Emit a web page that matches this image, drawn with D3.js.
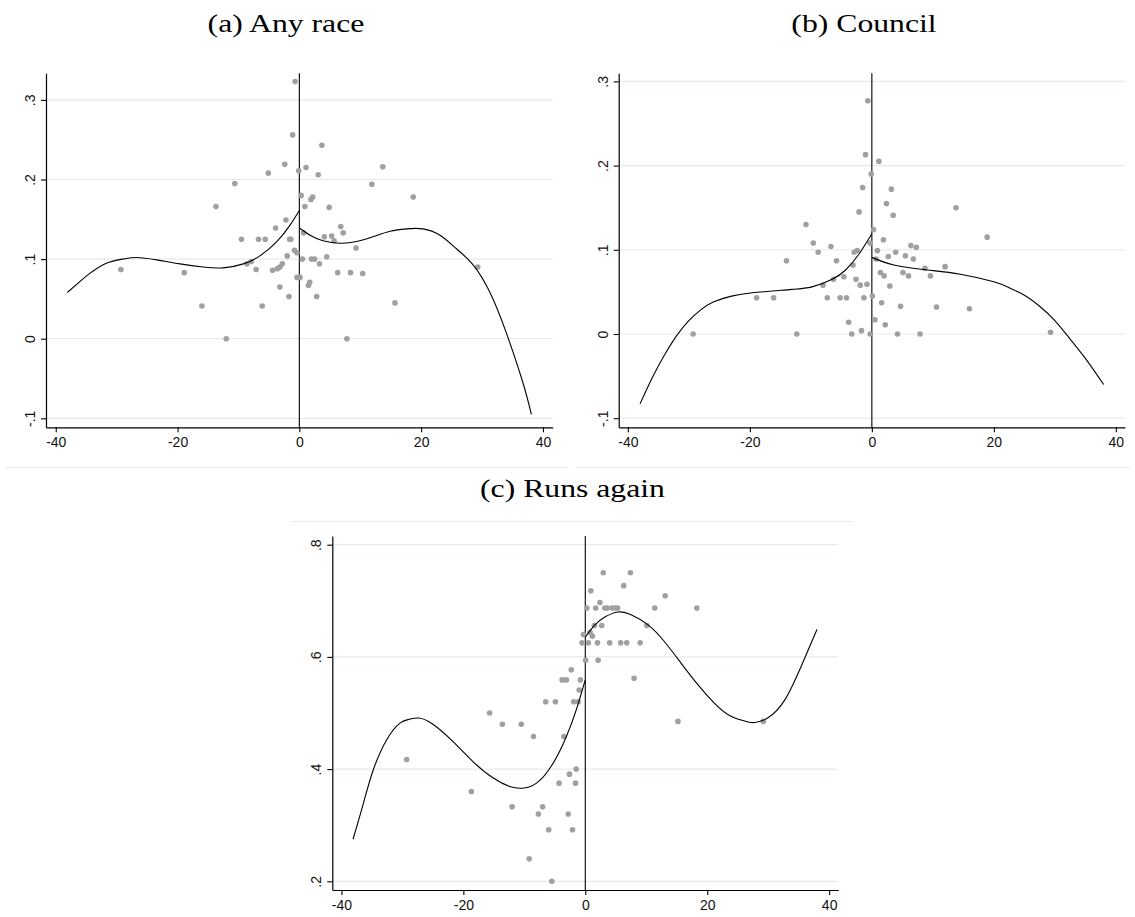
<!DOCTYPE html>
<html>
<head>
<meta charset="utf-8">
<script src="https://cdn.jsdelivr.net/npm/d3@7"></script>
<style>
  html, body { margin: 0; padding: 0; background: #fff; }
  svg { display: block; }
</style>
</head>
<body>
<svg id="chart" width="1135" height="917"></svg>
<script>
// ---------------- DATA ----------------
const panelTitles = ["(a) Any race", "(b) Council", "(c) Runs again"];

const xTickValues = [-40, -20, 0, 20, 40];
const xTickLabels = ["-40", "-20", "0", "20", "40"];

const yTickValuesAB = [-0.1, 0, 0.1, 0.2, 0.3];
const yTickLabelsAB = ["-.1", "0", ".1", ".2", ".3"];

const yTickValuesC = [0.2, 0.4, 0.6, 0.8];
const yTickLabelsC = [".2", ".4", ".6", ".8"];

// (a) Any race: binned means [x, y]
const anyRacePoints = [
  [-29.3,0.087],[-18.9,0.083],[-16.0,0.041],[-13.7,0.166],[-12.0,0.0],[-10.6,0.195],
  [-9.5,0.125],[-8.6,0.094],[-7.9,0.097],[-7.1,0.087],[-6.7,0.125],[-6.1,0.041],
  [-5.6,0.125],[-5.1,0.208],[-4.4,0.086],[-3.9,0.139],[-3.6,0.088],[-3.2,0.090],
  [-3.2,0.065],[-2.8,0.094],[-2.4,0.219],[-2.2,0.149],[-2.0,0.104],[-1.7,0.053],
  [-1.6,0.125],[-1.4,0.125],[-1.1,0.256],[-0.8,0.111],[-0.7,0.323],[-0.4,0.108],
  [-0.4,0.077],[-0.1,0.211],[0.1,0.077],[0.3,0.180],[0.5,0.100],[0.7,0.133],
  [0.9,0.166],[1.1,0.215],[1.5,0.067],[1.7,0.071],[1.9,0.175],[2.0,0.100],
  [2.2,0.178],[2.5,0.100],[2.85,0.053],[3.1,0.206],[3.3,0.094],[3.7,0.243],
  [4.1,0.128],[4.5,0.103],[4.9,0.165],[5.3,0.129],[5.7,0.123],[6.3,0.083],
  [6.8,0.141],[7.2,0.133],[7.8,0.0],[8.4,0.083],[9.3,0.114],[10.4,0.082],
  [11.9,0.194],[13.7,0.216],[15.7,0.045],[18.7,0.178],[29.3,0.090]
];
const anyRaceFitLeft = [
  [-38.1,0.058],[-36.0,0.072],[-34.4,0.082],[-31.6,0.095],[-29.0,0.100],[-26.7,0.102],
  [-23.4,0.099],[-19.6,0.094],[-15.8,0.090],[-12.5,0.089],[-9.2,0.094],[-6.5,0.104],
  [-3.7,0.122],[-1.5,0.143],[0,0.161]
];
const anyRaceFitRight = [
  [0,0.139],[1.75,0.130],[3.9,0.123],[6.7,0.120],[9.4,0.122],[12.1,0.128],[14.9,0.135],
  [17.6,0.138],[20.3,0.138],[23.1,0.130],[25.8,0.113],[28.5,0.093],[31.3,0.058],
  [34.0,0.007],[36.7,-0.055],[38.1,-0.095]
];

// (b) Council
const councilPoints = [
  [-29.3,0.0],[-18.9,0.043],[-16.1,0.043],[-14.0,0.087],[-12.3,0.0],[-10.8,0.130],
  [-9.6,0.108],[-8.8,0.097],[-8.0,0.058],[-7.3,0.043],[-6.7,0.104],[-6.3,0.065],
  [-5.8,0.087],[-5.2,0.043],[-4.6,0.068],[-4.15,0.043],[-3.8,0.014],[-3.3,0.0],
  [-3.1,0.082],[-2.9,0.097],[-2.6,0.065],[-2.4,0.099],[-2.1,0.145],[-1.9,0.058],
  [-1.7,0.004],[-1.5,0.174],[-1.3,0.043],[-1.04,0.213],[-0.8,0.059],[-0.66,0.277],
  [-0.3,0.108],[-0.27,0.0],[-0.1,0.190],
  [0.1,0.045],[0.27,0.124],[0.5,0.017],[0.7,0.089],[0.9,0.099],[1.15,0.205],
  [1.4,0.073],[1.6,0.037],[1.9,0.112],[2.0,0.069],[2.2,0.011],[2.4,0.155],
  [2.7,0.092],[2.95,0.057],[3.2,0.172],[3.5,0.141],[3.9,0.097],[4.2,0.0],
  [4.7,0.033],[5.1,0.073],[5.5,0.093],[6.0,0.069],[6.4,0.105],[6.8,0.089],
  [7.3,0.103],[7.9,0.0],[8.7,0.078],[9.6,0.069],[10.6,0.032],[12.0,0.080],
  [13.8,0.150],[16.0,0.030],[18.9,0.115],[29.3,0.002]
];
const councilFitLeft = [
  [-38.0,-0.083],[-36.0,-0.052],[-34.0,-0.025],[-32.0,-0.002],[-30.0,0.016],[-28.0,0.029],
  [-26.0,0.038],[-23.0,0.045],[-19.6,0.049],[-16.3,0.051],[-13.1,0.053],[-9.8,0.056],
  [-6.5,0.065],[-4.3,0.076],[-2.1,0.095],[0,0.119]
];
const councilFitRight = [
  [0,0.091],[3.6,0.082],[9.1,0.076],[14.5,0.071],[20.0,0.062],[22.5,0.055],[25.0,0.046],
  [27.5,0.033],[30.0,0.016],[32.5,-0.006],[35.0,-0.029],[38.0,-0.060]
];

// (c) Runs again
const runsAgainPoints = [
  [-29.3,0.417],[-18.7,0.360],[-15.7,0.500],[-13.6,0.480],[-12.0,0.333],[-10.5,0.480],
  [-9.2,0.240],[-8.5,0.458],[-7.7,0.320],[-7.0,0.333],[-6.5,0.520],[-6.0,0.292],
  [-5.5,0.200],[-4.9,0.520],[-4.3,0.375],[-3.8,0.559],[-3.5,0.458],[-3.1,0.559],
  [-2.8,0.320],[-2.6,0.391],[-2.3,0.577],[-2.1,0.292],[-1.9,0.520],[-1.6,0.375],
  [-1.5,0.400],[-1.15,0.520],[-1.0,0.541],[-0.8,0.559],[-0.55,0.625],[-0.3,0.640],
  [0.05,0.594],[0.27,0.687],[0.5,0.625],[0.77,0.644],[0.9,0.718],[1.15,0.637],
  [1.5,0.656],[1.7,0.687],[2.0,0.625],[2.1,0.594],[2.4,0.697],[2.7,0.656],
  [2.95,0.750],[3.2,0.687],[3.6,0.687],[4.0,0.625],[4.4,0.687],[4.9,0.687],
  [5.3,0.687],[5.8,0.625],[6.3,0.727],[6.8,0.625],[7.4,0.750],[8.0,0.562],
  [9.0,0.625],[10.1,0.656],[11.4,0.687],[13.1,0.709],[15.2,0.485],[18.3,0.687],
  [29.2,0.485]
];
const runsAgainFitLeft = [
  [-38.1,0.275],[-36.4,0.339],[-34.8,0.398],[-32.6,0.452],[-30.4,0.482],[-28.8,0.489],
  [-27.3,0.491],[-25.0,0.480],[-21.7,0.449],[-18.4,0.413],[-15.1,0.384],[-12.4,0.369],
  [-10.4,0.366],[-8.0,0.375],[-5.3,0.410],[-3.1,0.458],[-1.5,0.505],[0,0.559]
];
const runsAgainFitRight = [
  [0,0.635],[1.5,0.656],[3.2,0.671],[5.4,0.680],[7.5,0.675],[10.3,0.657],[13.0,0.627],
  [15.7,0.589],[18.5,0.550],[21.2,0.517],[23.9,0.494],[26.7,0.484],[27.8,0.483],
  [29.9,0.491],[32.7,0.523],[35.4,0.583],[38.0,0.649]
];

// ---------------- LAYOUT ----------------
const svg = d3.select("#chart");

const panels = [
  { title: panelTitles[0], titleX: 286, titleY: 31.5,
    xRange: [46, 552.7], xDomain: [-41.6, 41.6],
    yRange: [427.3, 73.3], yDomain: [-0.1113, 0.3334],
    yTicks: yTickValuesAB, yLabels: yTickLabelsAB,
    points: anyRacePoints, fits: [anyRaceFitLeft, anyRaceFitRight] },
  { title: panelTitles[1], titleX: 864, titleY: 31.5,
    xRange: [618.7, 1125], xDomain: [-41.5, 41.5],
    yRange: [427.3, 73.3], yDomain: [-0.1108, 0.3096],
    yTicks: yTickValuesAB, yLabels: yTickLabelsAB,
    points: councilPoints, fits: [councilFitLeft, councilFitRight] },
  { title: panelTitles[2], titleX: 572.5, titleY: 497,
    xRange: [332.3, 838.3], xDomain: [-41.5, 41.5],
    yRange: [890, 536], yDomain: [0.1845, 0.8155],
    yTicks: yTickValuesC, yLabels: yTickLabelsC,
    points: runsAgainPoints, fits: [runsAgainFitLeft, runsAgainFitRight] }
];

// faint graph-region outlines
const faint = svg.append("g").attr("stroke", "#ececec").attr("stroke-width", 1);
faint.append("line").attr("x1", 5).attr("x2", 567).attr("y1", 467.5).attr("y2", 467.5);
faint.append("line").attr("x1", 576).attr("x2", 1130).attr("y1", 467.5).attr("y2", 467.5);
faint.append("line").attr("x1", 291).attr("x2", 853).attr("y1", 521.5).attr("y2", 521.5);

const tickFont = "'Liberation Sans', Arial, Helvetica, sans-serif";

panels.forEach(p => {
  const x = d3.scaleLinear().domain(p.xDomain).range(p.xRange);
  const y = d3.scaleLinear().domain(p.yDomain).range(p.yRange);
  const g = svg.append("g");

  // title
  const t = g.append("text")
    .attr("x", p.titleX).attr("y", p.titleY)
    .attr("text-anchor", "middle")
    .attr("font-family", "'Liberation Serif', 'Times New Roman', serif")
    .attr("font-size", 26)
    .attr("fill", "#000")
    .text(p.title);
  const len = t.node().getComputedTextLength();
  t.attr("textLength", len * 1.22).attr("lengthAdjust", "spacingAndGlyphs");

  // gridlines
  g.append("g").selectAll("line").data(p.yTicks).join("line")
    .attr("x1", p.xRange[0]).attr("x2", p.xRange[1])
    .attr("y1", d => y(d)).attr("y2", d => y(d))
    .attr("stroke", "#e3ecec").attr("stroke-width", 1.2);

  // vertical line at 0
  g.append("line")
    .attr("x1", x(0)).attr("x2", x(0))
    .attr("y1", p.yRange[1]).attr("y2", p.yRange[0])
    .attr("stroke", "#000").attr("stroke-width", 1.1);

  // points
  g.append("g").selectAll("circle").data(p.points).join("circle")
    .attr("cx", d => x(d[0])).attr("cy", d => y(d[1]))
    .attr("r", 2.8).attr("fill", "#a0a0a0");

  // fitted curves
  const line = d3.line().x(d => x(d[0])).y(d => y(d[1])).curve(d3.curveNatural);
  p.fits.forEach(f => {
    g.append("path").datum(f).attr("d", line)
      .attr("fill", "none").attr("stroke", "#000").attr("stroke-width", 1.1);
  });

  // x axis
  const xa = g.append("g").attr("transform", `translate(0,${p.yRange[0]})`)
    .call(d3.axisBottom(x).tickValues(xTickValues)
      .tickFormat((d, i) => xTickLabels[i]).tickSize(5).tickSizeOuter(0));
  xa.select(".domain").attr("stroke", "#000").attr("stroke-width", 1.2);
  xa.selectAll(".tick line").attr("stroke", "#000").attr("stroke-width", 1.1);
  xa.selectAll(".tick text").attr("y", 19.5).attr("dy", 0)
    .attr("font-family", tickFont).attr("font-size", 14).attr("fill", "#111");

  // y axis
  const ya = g.append("g").attr("transform", `translate(${p.xRange[0]},0)`)
    .call(d3.axisLeft(y).tickValues(p.yTicks)
      .tickFormat((d, i) => p.yLabels[i]).tickSize(5).tickSizeOuter(0));
  ya.select(".domain").attr("stroke", "#000").attr("stroke-width", 1.2);
  ya.selectAll(".tick line").attr("stroke", "#000").attr("stroke-width", 1.1);
  ya.selectAll(".tick text")
    .attr("transform", "rotate(-90)")
    .attr("x", 0).attr("y", -11).attr("dy", 0)
    .attr("text-anchor", "middle")
    .attr("font-family", tickFont).attr("font-size", 14).attr("fill", "#111");
});
</script>
</body>
</html>
